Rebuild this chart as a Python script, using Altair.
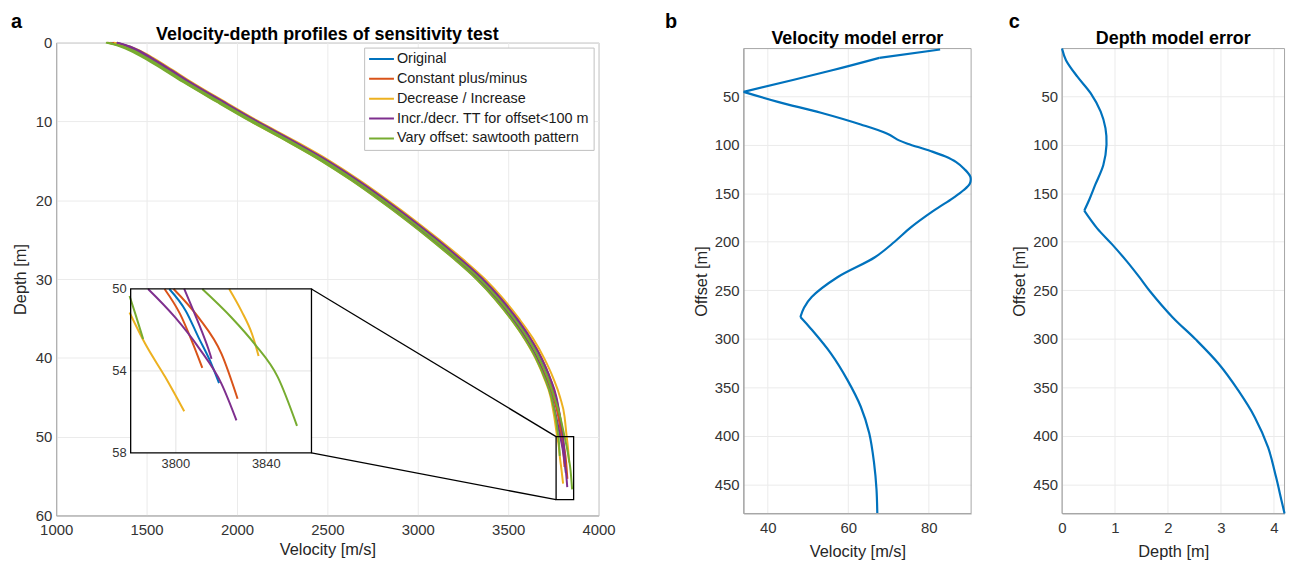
import altair as alt
import pandas as pd

FONT = "Liberation Sans"

# ---------------- Panel a: velocity-depth profiles ----------------
SERIES = ["Original", "Constant plus/minus", "Decrease / Increase",
          "Incr./decr. TT for offset<100 m", "Vary offset: sawtooth pattern"]
COLORS = ["#0072BD", "#D95319", "#EDB120", "#7E2F8E", "#77AC30"]

DEPTH_UPPER = [0, 0.5, 1, 2, 3.5, 5, 7.5, 10, 12.5, 15, 17.5, 20, 22.5, 25, 27.5, 30,
               32.5, 35, 37.5, 40, 42.5, 45, 47.5]

orig_upper = [1300, 1385, 1440, 1520, 1625, 1728, 1912, 2100, 2300, 2490, 2658, 2812, 2958, 3096,
              3226, 3347, 3448, 3535, 3610, 3672, 3720, 3757, 3782]
orig_tail_d = [50.0, 51.07, 52.36, 53.50, 54.60]
orig_tail_v = [3797.1, 3804.4, 3810.0, 3815.1, 3819.1]

const_minus_upper = [1288, 1373, 1428, 1508, 1613, 1716, 1900, 2088, 2288, 2478, 2646, 2800, 2946,
                     3084, 3214, 3335, 3436, 3523, 3598, 3660, 3710, 3750, 3778]
const_minus_tail_d = [50.0, 51.23, 52.52, 53.85]
const_minus_tail_v = [3795.0, 3801.9, 3807.0, 3811.7]

const_plus_upper = [1312, 1397, 1452, 1532, 1637, 1740, 1924, 2112, 2312, 2502, 2670, 2824, 2970,
                    3108, 3238, 3359, 3460, 3547, 3622, 3684, 3730, 3764, 3786]
const_plus_tail_d = [50.0, 51.39, 53.17, 55.36]
const_plus_tail_v = [3799.0, 3810.0, 3820.2, 3827.3]

decr_upper = [1280, 1365, 1420, 1498, 1603, 1706, 1890, 2078, 2278, 2468, 2636, 2790, 2936, 3074,
              3204, 3325, 3426, 3513, 3588, 3650, 3698, 3735, 3755]
decr_tail_d = [50.0, 51.15, 52.69, 54.30, 55.97]
decr_tail_v = [3771.0, 3779.5, 3786.5, 3795.3, 3803.7]

incr_upper = [1320, 1405, 1460, 1540, 1645, 1748, 1932, 2120, 2322, 2512, 2680, 2834, 2980, 3118,
              3250, 3371, 3472, 3559, 3636, 3698, 3748, 3787, 3812]
incr_tail_d = [50.0, 51.07, 52.20, 53.27]
incr_tail_v = [3823.6, 3829.0, 3833.7, 3836.6]

tt1_upper = [1335, 1398, 1440, 1514, 1617, 1720, 1904, 2092, 2291, 2480, 2648, 2801, 2946, 3084,
             3213, 3334, 3434, 3521, 3595, 3657, 3704, 3741, 3766]
tt1_tail_d = [50.0, 51.39, 52.85, 54.63, 56.41]
tt1_tail_v = [3787.7, 3799.7, 3810.0, 3820.2, 3826.8]

tt2_upper = [1335, 1408, 1456, 1532, 1637, 1740, 1924, 2112, 2312, 2502, 2670, 2824, 2970, 3108,
             3238, 3359, 3460, 3547, 3622, 3683, 3731, 3767, 3787]
tt2_tail_d = [50.0, 51.07, 52.04, 52.93, 53.41]
tt2_tail_v = [3803.7, 3807.8, 3811.4, 3814.4, 3815.8]

saw1_upper = [1275, 1355, 1408, 1490, 1597, 1702, 1887, 2076, 2276, 2466, 2634, 2788, 2934, 3072,
              3203, 3324, 3426, 3513, 3589, 3652, 3701, 3739, 3762]
saw1_tail_d = [50.0, 50.34, 51.23, 52.44]
saw1_tail_v = [3777.5, 3779.5, 3782.1, 3785.5]

saw2_upper = [1282, 1368, 1425, 1506, 1613, 1718, 1904, 2094, 2294, 2484, 2652, 2807, 2953, 3092,
              3222, 3343, 3445, 3532, 3608, 3670, 3718, 3755, 3788]
saw2_tail_d = [50.0, 51.39, 52.69, 54.30, 56.68]
saw2_tail_v = [3811.7, 3824.6, 3834.9, 3845.1, 3853.6]

CURVES = [
    (SERIES[0], "orig", orig_upper, orig_tail_d, orig_tail_v),
    (SERIES[1], "c1", const_minus_upper, const_minus_tail_d, const_minus_tail_v),
    (SERIES[1], "c2", const_plus_upper, const_plus_tail_d, const_plus_tail_v),
    (SERIES[2], "d1", decr_upper, decr_tail_d, decr_tail_v),
    (SERIES[2], "d2", incr_upper, incr_tail_d, incr_tail_v),
    (SERIES[3], "t1", tt1_upper, tt1_tail_d, tt1_tail_v),
    (SERIES[3], "t2", tt2_upper, tt2_tail_d, tt2_tail_v),
    (SERIES[4], "s1", saw1_upper, saw1_tail_d, saw1_tail_v),
    (SERIES[4], "s2", saw2_upper, saw2_tail_d, saw2_tail_v),
]

rows = []
for series, curve, upper, td, tv in CURVES:
    for d, v in list(zip(DEPTH_UPPER, upper)) + list(zip(td, tv)):
        rows.append({"series": series, "curve": curve, "depth": d, "vel": v})
profiles = pd.DataFrame(rows)

VEL_DOMAIN = [1000, 4000]
VEL_TICKS = [1000, 1500, 2000, 2500, 3000, 3500, 4000]
DEPTH_DOMAIN = [0, 60]
DEPTH_TICKS = [0, 10, 20, 30, 40, 50, 60]

# zoom window
ZOOM_VEL = [3780, 3860]
ZOOM_DEPTH = [50, 58]
ZOOM_VEL_TICKS = [3800, 3840]
ZOOM_DEPTH_TICKS = [50, 54, 58]
ZOOM_GRID_DEPTH = [54]
MAIN_BOX_VEL = [3765, 3862]
# where the inset sits, expressed in main-axis units
INSET_VEL_SPAN = [1412, 2412]
INSET_DEPTH_SPAN = [31.26, 52.06]

WA, HA = 546, 476
WB, WC = 229, 224
H_BC = 474               # panels b, c: full view height
BC_TOP_GAP = 6           # their plot box starts a little lower than panel a's

BOX_GRAY = "#a6a6a6"
GRID_GRAY = "#ebebeb"
LETTER_Y = -15


def px_x(v):
    return (v - VEL_DOMAIN[0]) / (VEL_DOMAIN[1] - VEL_DOMAIN[0]) * WA


def px_y(d):
    return (d - DEPTH_DOMAIN[0]) / (DEPTH_DOMAIN[1] - DEPTH_DOMAIN[0]) * HA


INSET_X_RANGE = [px_x(INSET_VEL_SPAN[0]), px_x(INSET_VEL_SPAN[1])]
INSET_Y_RANGE = [px_y(INSET_DEPTH_SPAN[0]), px_y(INSET_DEPTH_SPAN[1])]


def text_layer(label, x, y, size, weight="bold"):
    return alt.Chart(pd.DataFrame({"t": [label]})).mark_text(
        font=FONT, fontSize=size, fontWeight=weight, align="center", baseline="alphabetic",
        color="black").encode(text="t:N", x=alt.value(x), y=alt.value(y))


legend = alt.Legend(title=None, orient="top-right", offset=5, fillColor="white",
                    strokeColor="#bfbfbf", padding=4, labelFont=FONT, labelFontSize=14.5,
                    labelColor="#1a1a1a", symbolType="stroke", symbolSize=625,
                    symbolStrokeWidth=2, labelOffset=2, labelLimit=400, rowPadding=4, clipHeight=15)
color = alt.Color("series:N", scale=alt.Scale(domain=SERIES, range=COLORS), sort=SERIES, legend=legend)

xa = alt.X("vel:Q", scale=alt.Scale(domain=VEL_DOMAIN, nice=False, zero=False),
           axis=alt.Axis(values=VEL_TICKS, format="d", title="Velocity [m/s]", labelPadding=7, titlePadding=4))
ya = alt.Y("depth:Q", scale=alt.Scale(domain=DEPTH_DOMAIN, reverse=True, nice=False, zero=False),
           axis=alt.Axis(values=DEPTH_TICKS, title="Depth [m]", labelPadding=4.5, titlePadding=7))

main_lines = alt.Chart(profiles).mark_line(strokeWidth=2, interpolate="monotone").encode(
    x=xa, y=ya, color=color, detail="curve:N")

main_box = alt.Chart(pd.DataFrame({"v1": [MAIN_BOX_VEL[0]], "v2": [MAIN_BOX_VEL[1]],
                                   "d1": [ZOOM_DEPTH[0]], "d2": [ZOOM_DEPTH[1]]})).mark_rect(
    fill=None, stroke="black", strokeWidth=1.3).encode(
    x="v1:Q", x2="v2:Q", y="d1:Q", y2="d2:Q")

connectors = alt.Chart(pd.DataFrame({
    "v1": [INSET_VEL_SPAN[1], INSET_VEL_SPAN[1]],
    "d1": INSET_DEPTH_SPAN,
    "v2": [MAIN_BOX_VEL[0], MAIN_BOX_VEL[0]],
    "d2": ZOOM_DEPTH})).mark_rule(color="black", strokeWidth=1.3).encode(
    x="v1:Q", y="d1:Q", x2="v2:Q", y2="d2:Q")

main_layer = alt.layer(main_lines, main_box, connectors,
                       text_layer("a", -40, LETTER_Y, 20),
                       text_layer("Velocity-depth profiles of sensitivity test", WA / 2, -3, 18))

# inset layers (own scales)
xi = alt.X("vel:Q", scale=alt.Scale(domain=ZOOM_VEL, range=INSET_X_RANGE, nice=False, zero=False), axis=None)
yi = alt.Y("depth:Q", scale=alt.Scale(domain=ZOOM_DEPTH, range=INSET_Y_RANGE, nice=False, zero=False), axis=None)

inset_bg = alt.Chart(pd.DataFrame({"vel": [ZOOM_VEL[0]], "v2": [ZOOM_VEL[1]],
                                   "depth": [ZOOM_DEPTH[0]], "d2": [ZOOM_DEPTH[1]]})).mark_rect(
    fill="white", stroke=None).encode(x=xi, x2="v2:Q", y=yi, y2="d2:Q")

inset_vgrid = alt.Chart(pd.DataFrame({"vel": ZOOM_VEL_TICKS, "depth": [ZOOM_DEPTH[0]] * 2,
                                      "d2": [ZOOM_DEPTH[1]] * 2})).mark_rule(
    color="#e3e3e3", strokeWidth=1).encode(x=xi, y=yi, y2="d2:Q")
inset_hgrid = alt.Chart(pd.DataFrame({"depth": ZOOM_GRID_DEPTH, "vel": [ZOOM_VEL[0]],
                                      "v2": [ZOOM_VEL[1]]})).mark_rule(
    color="#e3e3e3", strokeWidth=1).encode(x=xi, x2="v2:Q", y=yi)

inset_lines = alt.Chart(profiles).transform_filter(
    (alt.datum.depth >= ZOOM_DEPTH[0]) & (alt.datum.vel >= 3779)).mark_line(
    strokeWidth=2, interpolate="monotone").encode(x=xi, y=yi, color=color, detail="curve:N")

inset_frame = alt.Chart(pd.DataFrame({"vel": [ZOOM_VEL[0]], "v2": [ZOOM_VEL[1]],
                                      "depth": [ZOOM_DEPTH[0]], "d2": [ZOOM_DEPTH[1]]})).mark_rect(
    fill=None, stroke="black", strokeWidth=1.3).encode(x=xi, x2="v2:Q", y=yi, y2="d2:Q")

inset_ylabels = alt.Chart(pd.DataFrame({"depth": ZOOM_DEPTH_TICKS, "vel": [ZOOM_VEL[0]] * 3,
                                        "lab": [str(t) for t in ZOOM_DEPTH_TICKS]})).mark_text(
    font=FONT, fontSize=13, align="right", baseline="middle", dx=-4, color="#333333").encode(
    x=xi, y=yi, text="lab:N")
inset_xlabels = alt.Chart(pd.DataFrame({"vel": ZOOM_VEL_TICKS, "depth": [ZOOM_DEPTH[1]] * 2,
                                        "lab": [str(t) for t in ZOOM_VEL_TICKS]})).mark_text(
    font=FONT, fontSize=13, align="center", baseline="top", dy=5, color="#333333").encode(
    x=xi, y=yi, text="lab:N")

inset_layer = alt.layer(inset_bg, inset_vgrid, inset_hgrid, inset_lines, inset_frame,
                        inset_ylabels, inset_xlabels)

panel_a = alt.layer(main_layer, inset_layer).resolve_scale(x="independent", y="independent").properties(
    width=WA, height=HA)

# ---------------- Panels b and c ----------------
OFFSET_DOMAIN = [1, 480]
OFFSET_TICKS = [50, 100, 150, 200, 250, 300, 350, 400, 450]

vel_err_offset = [2, 10.6, 23.4, 45.6, 55.9, 67.1, 79.2, 88.7, 95.6, 99, 106.5, 112, 118, 125, 133,
                  140, 147, 155, 168, 185, 200, 216, 236.6, 257, 268, 277.6, 289.6, 315.3, 342.6,
                  370, 397.4, 428, 455, 479.6]
vel_err_value = [82.8, 67.7, 56.0, 34.0, 42.5, 53.2, 63.1, 69.7, 72.6, 74.7, 80.4, 84.0, 86.8, 88.8,
                 90.3, 90.2, 88.6, 86.0, 81.2, 75.6, 71.5, 66.6, 57.3, 50.9, 49.0, 48.1, 50.7, 55.7,
                 59.8, 63.1, 65.2, 66.4, 67.0, 67.2]
vel_err_kinks = [10.6, 45.6, 277.6]
VEL_ERR_DOMAIN = [34, 90.5]
VEL_ERR_TICKS = [40, 60, 80]

depth_err_offset = [1, 13, 30, 47, 66, 83, 100, 121, 141, 156, 168, 186, 203, 220, 236.5, 251, 278,
                    300.5, 326, 353.5, 381, 412, 442.5, 466, 480]
depth_err_value = [0, 0.075, 0.29, 0.54, 0.73, 0.82, 0.84, 0.78, 0.63, 0.52, 0.42, 0.66, 0.95, 1.22,
                   1.46, 1.66, 2.09, 2.52, 2.96, 3.33, 3.64, 3.89, 4.04, 4.14, 4.2]
depth_err_kinks = [168]
DEPTH_ERR_DOMAIN = [0, 4.2]
DEPTH_ERR_TICKS = [0, 1, 2, 3, 4]


def segmented(offsets, values, kinks):
    out = []
    for o, v in zip(offsets, values):
        seg = sum(1 for k in kinks if o > k)
        out.append({"offset": o, "value": v, "seg": seg})
        if o in kinks:
            out.append({"offset": o, "value": v, "seg": seg + 1})
    return pd.DataFrame(out)


def profile_panel(offsets, values, kinks, xdomain, xticks, xtitle, title, letter, letter_x, width):
    df = segmented(offsets, values, kinks)
    X = alt.X("value:Q", scale=alt.Scale(domain=xdomain, nice=False, zero=False),
              axis=alt.Axis(values=xticks, title=xtitle, labelPadding=7, titlePadding=8, grid=False))
    Y = alt.Y("offset:Q", scale=alt.Scale(domain=OFFSET_DOMAIN, range=[BC_TOP_GAP, H_BC], nice=False, zero=False),
              axis=alt.Axis(values=OFFSET_TICKS, title="Offset [m]", labelPadding=4.5, titlePadding=5))
    vgrid = alt.Chart(pd.DataFrame({"value": xticks, "offset": [OFFSET_DOMAIN[0]] * len(xticks),
                                    "o2": [OFFSET_DOMAIN[1]] * len(xticks)})).mark_rule(
        color=GRID_GRAY, strokeWidth=1).encode(x=X, y=Y, y2="o2:Q")
    box = alt.Chart(pd.DataFrame({"value": [xdomain[0]], "v2": [xdomain[1]],
                                  "offset": [OFFSET_DOMAIN[0]], "o2": [OFFSET_DOMAIN[1]]})).mark_rect(
        fill=None, stroke=BOX_GRAY, strokeWidth=1).encode(x=X, x2="v2:Q", y=Y, y2="o2:Q")
    line = alt.Chart(df).mark_line(color="#0072BD", strokeWidth=2.2, interpolate="catmull-rom").encode(
        x=X, y=Y, detail="seg:N", order="offset:Q")
    return alt.layer(vgrid, box, line, text_layer(letter, letter_x, LETTER_Y, 20),
                     text_layer(title, width / 2, 1.5, 18)).properties(
        width=width, height=H_BC, view=alt.ViewBackground(stroke="transparent"))


panel_b = profile_panel(vel_err_offset, vel_err_value, vel_err_kinks, VEL_ERR_DOMAIN, VEL_ERR_TICKS,
                        "Velocity [m/s]", "Velocity model error", "b", -73, WB)
panel_c = profile_panel(depth_err_offset, depth_err_value, depth_err_kinks, DEPTH_ERR_DOMAIN,
                        DEPTH_ERR_TICKS, "Depth [m]", "Depth model error", "c", -48, WC)

chart = alt.hconcat(panel_a, alt.hconcat(panel_b, panel_c, spacing=31.5), spacing=48).resolve_scale(
    color="independent").properties(
    padding={"left": 1.5, "top": 1, "right": 0, "bottom": 0}
).configure_axis(
    labelFont=FONT, titleFont=FONT, labelFontSize=15, titleFontSize=16.5, titleFontWeight="normal",
    labelColor="#333333", titleColor="#262626", gridColor=GRID_GRAY, domainColor=BOX_GRAY,
    ticks=False, tickSize=0, labelFlush=False
).configure_view(stroke=BOX_GRAY)

chart.save("out.html", embed_options={"renderer": "svg", "actions": False})
